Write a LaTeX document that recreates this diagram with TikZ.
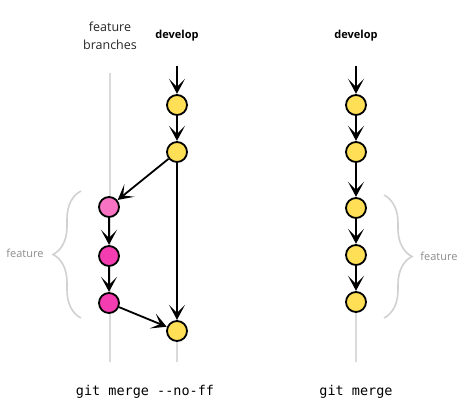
\documentclass[tikz,border=0pt]{standalone}
\usepackage{fontspec}
\setmainfont{Open Sans}
\setmonofont{DejaVu Sans Mono}
\usepackage{tikz}
\usetikzlibrary{arrows.meta,positioning,decorations.pathreplacing}

\definecolor{devyellow}{HTML}{FFDF55}
\definecolor{featpink}{HTML}{F53DB2}
\definecolor{featlight}{HTML}{F873C2}
\definecolor{branchgray}{HTML}{DADADA}

\begin{document}
\begin{tikzpicture}[x=1pt, y=-1pt,
  commit/.style={circle, draw=black, line width=1.8pt,
                 minimum size=20pt, inner sep=0pt, fill=#1},
  commit/.default={devyellow},
  arrow/.style={-{Stealth[length=15pt, width=16pt, inset=8pt]},
                line width=1.8pt, black, shorten >=0.3pt},
  branch/.style={line width=2.6pt, branchgray},
  hdr/.style={font=\fontsize{12.5}{18}\selectfont, text=black!85, align=center},
  devhdr/.style={font=\bfseries\fontsize{11}{13}\selectfont, text=black},
  brc/.style={decorate, decoration={brace, amplitude=28pt},
              line width=1.6pt, black!18},
  lbl/.style={font=\fontsize{11}{13}\selectfont, text=black!45},
  cmd/.style={font=\ttfamily\fontsize{13.5}{16}\selectfont}
]
  \useasboundingbox (0,0) rectangle (469,406);

  % Headers
  \node[hdr] (fbhdr) at (110,36) {feature\\branches};
  \node[devhdr] (devl) at (177,36) {develop};
  \node[devhdr] (devr) at (356,36) {develop};

  % Branch lines
  \coordinate (fbtop) at (110,73);
  \coordinate (fbbot) at (110,362);
  \coordinate (dlbot) at (177,362);
  \coordinate (drbot) at (356,362);
  \draw[branch] (fbtop) -- (fbbot);

  % Left: merge --no-ff
  \coordinate (dltop) at (177,66);
  \node[commit] (l1) at (177,105) {};
  \node[commit] (l2) at (177,152) {};
  \draw[branch] (l2) -- (dlbot);
  \node[commit] (lm) at (177,331) {};
  \node[commit=featlight] (f1) at (109,207) {};
  \node[commit=featpink] (f2) at (109,256) {};
  \node[commit=featpink] (f3) at (109,303) {};

  \draw[arrow] (dltop) -- (l1);
  \draw[arrow] (l1) -- (l2);
  \draw[arrow] (l2) -- (f1);
  \draw[arrow] (f1) -- (f2);
  \draw[arrow] (f2) -- (f3);
  \draw[arrow] (f3) -- (lm);
  \draw[arrow] (l2) -- (lm);

  % Right: merge (fast-forward)
  \coordinate (drtop) at (356,66);
  \draw[branch] (356,302) -- (drbot);
  \node[commit] (r1) at (356,105) {};
  \node[commit] (r2) at (356,152) {};
  \node[commit] (r3) at (356,208) {};
  \node[commit] (r4) at (356,255) {};
  \node[commit] (r5) at (356,302) {};

  \draw[arrow] (drtop) -- (r1);
  \foreach \a/\b in {r1/r2, r2/r3, r3/r4, r4/r5}
    \draw[arrow] (\a) -- (\b);

  % Braces
  \draw[brc] (81,318) -- (81,191);
  \node[lbl] (fl) at (25,253) {feature};
  \draw[brc] (384,195) -- (384,318);
  \node[lbl] (fr) at (439,256) {feature};

  % Commands
  \node[cmd] (cl) at (145,392) {git merge -{}-no-ff};
  \node[cmd] (cr) at (356,392) {git merge};
\end{tikzpicture}
\end{document}
